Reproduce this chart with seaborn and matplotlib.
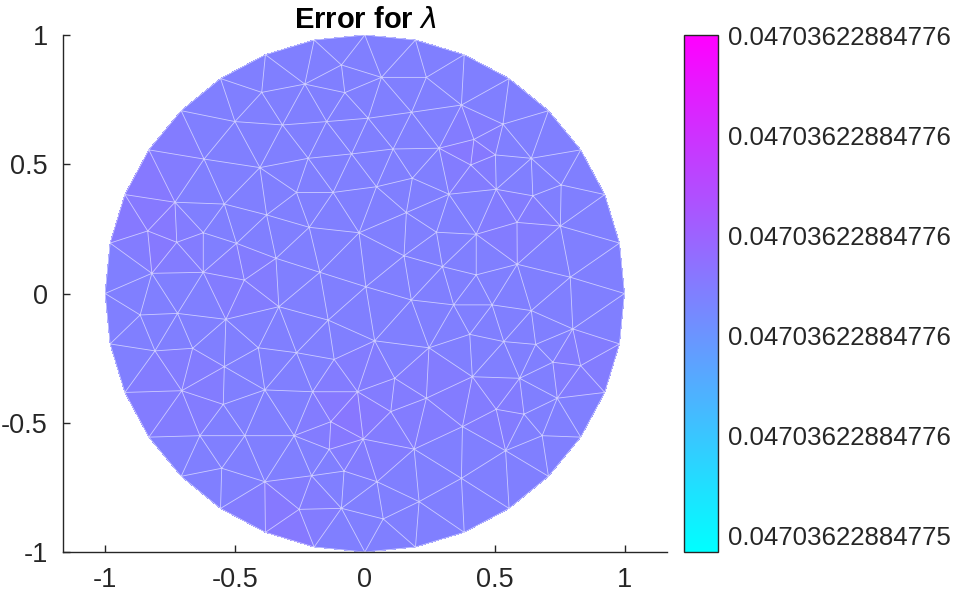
import numpy as np
import matplotlib
matplotlib.use("Agg")
import matplotlib.pyplot as plt
import matplotlib.tri as mtri
from matplotlib.colors import Normalize
from matplotlib.ticker import FuncFormatter
import seaborn as sns

# error of lambda per mesh node: err_base + value * err_unit
err_base = 0.04703622884775
err_unit = 1e-16

# boundary nodes of the unit disk (angle in degrees) and their errors
bnd_deg = [0.0, 11.25, 22.5, 33.75, 45.0, 56.25, 67.5, 78.75,
           90.0, 101.25, 112.5, 123.75, 135.0, 146.25, 157.5, 168.75,
           180.0, 191.25, 202.5, 213.75, 225.0, 236.25, 247.5, 258.75,
           270.0, 281.25, 292.5, 303.75, 315.0, 326.25, 337.5, 348.75]
bnd_err = [53.85, 53.85, 53.85, 53.85, 53.85, 53.85, 53.85, 53.85,
           53.85, 53.85, 53.85, 53.85, 53.85, 54.2, 54.2, 53.85,
           53.85, 53.85, 53.85, 53.85, 53.85, 53.85, 54.2, 53.85,
           53.85, 53.85, 53.85, 53.85, 53.85, 53.85, 53.85, 53.85]

# interior nodes
int_x = [-0.090, -0.231, -0.397, -0.077, -0.500, -0.317, -0.147, -0.619, -0.404,
         -0.218, -0.051, -0.731, -0.541, -0.263, -0.122, -0.378, -0.836, -0.724,
         -0.622, -0.494, -0.342, -0.214, -0.022, -0.820, -0.622, -0.464, -0.173,
         0.064, 0.237, 0.180, 0.372, 0.013, 0.532, 0.420, 0.109, 0.286,
         0.503, 0.641, 0.408, 0.045, 0.183, 0.324, 0.506, 0.647, 0.756,
         0.160, 0.276, 0.429, 0.586, 0.753, 0.151, 0.299, 0.429, 0.587,
         0.791, 0.004,
         -0.865, -0.721, -0.535, -0.331, -0.141, -0.808, -0.663, -0.541, -0.410,
         -0.263, -0.118, -0.705, -0.545, -0.385, -0.201, -0.028, -0.635, -0.462,
         -0.272, -0.131, -0.006, -0.551, -0.385, -0.205, -0.080, -0.253, -0.090,
         -0.137,
         0.179, 0.342, 0.490, 0.641, 0.801, 0.038, 0.247, 0.404, 0.535,
         0.658, 0.724, 0.831, 0.115, 0.414, 0.596, 0.741, 0.237, 0.100,
         0.506, 0.613, 0.376, 0.683, 0.190, 0.542, 0.047, 0.372, 0.209,
         0.071]
int_y = [0.884, 0.810, 0.778, 0.777, 0.665, 0.652, 0.665, 0.520, 0.487,
         0.523, 0.540, 0.353, 0.346, 0.391, 0.391, 0.304, 0.242, 0.198,
         0.235, 0.194, 0.136, 0.256, 0.235, 0.078, 0.082, 0.052, 0.082,
         0.836, 0.836, 0.701, 0.729, 0.678, 0.655, 0.596, 0.559, 0.562,
         0.536, 0.523, 0.497, 0.413, 0.446, 0.384, 0.403, 0.378, 0.420,
         0.313, 0.237, 0.229, 0.275, 0.261, 0.146, 0.104, 0.072, 0.113,
         0.063, 0.026,
         -0.083, -0.077, -0.100, -0.051, -0.103, -0.222, -0.212, -0.283, -0.210,
         -0.229, -0.255, -0.376, -0.429, -0.373, -0.380, -0.380, -0.550, -0.550,
         -0.550, -0.496, -0.563, -0.676, -0.728, -0.705, -0.687, -0.835, -0.831,
         -0.603,
         -0.025, -0.044, -0.044, -0.066, -0.137, -0.183, -0.210, -0.158, -0.186,
         -0.197, -0.266, -0.279, -0.328, -0.322, -0.328, -0.405, -0.405, -0.457,
         -0.448, -0.467, -0.515, -0.550, -0.602, -0.608, -0.728, -0.715, -0.805,
         -0.872]
int_err = [53.85, 53.85, 53.85, 53.85, 53.85, 53.85, 53.85, 53.85, 53.85,
           53.85, 53.85, 53.85, 53.85, 53.85, 53.85, 53.85, 54.2, 54.2,
           53.85, 53.85, 53.85, 53.85, 53.85, 53.85, 53.85, 54.2, 53.85,
           53.85, 53.85, 53.85, 53.85, 53.85, 53.85, 54.2, 53.85, 53.85,
           53.85, 53.85, 54.2, 53.85, 53.85, 53.85, 53.85, 53.85, 53.85,
           53.85, 53.85, 53.85, 54.2, 53.85, 53.85, 53.85, 53.85, 53.85,
           53.85, 53.85,
           53.85, 53.85, 53.85, 53.85, 53.85, 53.85, 53.85, 53.85, 53.85,
           53.85, 53.85, 54.2, 53.85, 53.85, 53.85, 54.2, 53.85, 53.85,
           53.85, 54.2, 54.2, 53.85, 53.85, 53.85, 53.85, 54.2, 53.85,
           53.85,
           53.85, 53.85, 53.85, 53.85, 53.85, 53.85, 53.85, 53.85, 53.85,
           53.85, 53.85, 54.2, 53.85, 53.85, 53.85, 53.85, 54.2, 53.85,
           54.2, 53.85, 53.85, 53.85, 53.85, 53.85, 53.85, 53.85, 53.85,
           53.85]

cbar_lim = (48.66, 59.02)
cbar_ticks = [49, 51, 53, 55, 57, 59]
axis_ticks = [-1, -0.5, 0, 0.5, 1]
axis_labels = ["-1", "-0.5", "0", "0.5", "1"]

sns.set_theme(style="ticks")
plt.rcParams["font.family"] = ["Liberation Sans", "DejaVu Sans"]
plt.rcParams["axes.unicode_minus"] = False

ang = np.deg2rad(bnd_deg)
x = np.concatenate([np.cos(ang), int_x])
y = np.concatenate([np.sin(ang), int_y])
err = np.concatenate([bnd_err, int_err])

fig = plt.figure(figsize=(9.55, 5.96), dpi=100)
ax = fig.add_axes([0.066, 0.0738, 0.632, 0.8675])
cax = fig.add_axes([0.716, 0.0738, 0.0356, 0.8675])

tri = mtri.Triangulation(x, y)
cmap = sns.color_palette("cool", as_cmap=True)
pc = ax.tripcolor(tri, err, shading="flat", cmap=cmap, norm=Normalize(*cbar_lim))
ax.triplot(tri, color="white", lw=0.6, alpha=0.6)

ax.set_xlim(-1.162, 1.162)
ax.set_ylim(-1, 1)
ax.set_xticks(axis_ticks, axis_labels)
ax.set_yticks(axis_ticks, axis_labels)
ax.tick_params(direction="in", length=5, width=1, color="#262626",
               labelsize=19.5, labelcolor="#262626", pad=11)
sns.despine(ax=ax)
for s in ["left", "bottom"]:
    ax.spines[s].set_color("#262626")
    ax.spines[s].set_linewidth(1)
ax.set_title(r"Error for $\lambda$", fontsize=21, fontweight="bold",
             color="black", pad=5)

cb = fig.colorbar(pc, cax=cax, ticks=cbar_ticks,
                  format=FuncFormatter(lambda v, p: f"{err_base + v * err_unit:.14f}"))
cb.outline.set_edgecolor("#262626")
cb.outline.set_linewidth(1)
cax.tick_params(direction="in", length=4, width=1, color="#262626",
                labelsize=18.6, labelcolor="#262626", pad=7)

fig.savefig("out.png", dpi=100)
